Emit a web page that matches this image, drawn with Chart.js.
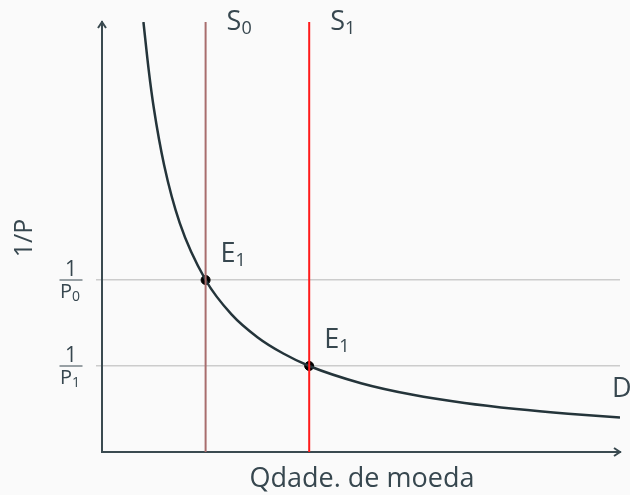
<!DOCTYPE html>
<html>
<head>
<meta charset="utf-8">
<script src="https://cdn.jsdelivr.net/npm/chart.js@4.4.0/dist/chart.umd.min.js"></script>
<style>
  html, body { margin: 0; padding: 0; background: #fafafa; }
  #wrap { width: 630px; height: 495px; }
</style>
</head>
<body>
<div id="wrap"><canvas id="chart" width="630" height="495"></canvas></div>
<script>
// demand curve D (quantity vs 1/P)
const demandX = [0.8, 0.9, 1, 1.2, 1.5, 2, 2.5, 3, 3.5, 4, 5, 6, 7, 8, 9, 10];
const demandY = [10, 8.9, 8, 6.67, 5.33, 4, 3.2, 2.67, 2.29, 2, 1.6, 1.33, 1.14, 1, 0.89, 0.8];

// money supply lines
const supplyX = [2, 4];
const supplyNames = ['S0', 'S1'];
const supplyColors = ['#a86d6d', '#ff1a1a'];

// equilibrium points
const eqX = [2, 4];
const eqY = [4, 2];
const eqLabels = ['E1', 'E1'];

// y ticks (1/P0, 1/P1)
const tickValues = [4, 2];
const tickSubs = ['0', '1'];

const axisColor = '#3a4a50';
const textColor = '#37474f';
const FONT = '"Open Sans", "Noto Sans", sans-serif';

function drawSub(ctx, main, sub, x, y, size) {
    ctx.font = size + 'px ' + FONT;
    ctx.fillText(main, x, y);
    const w = ctx.measureText(main).width;
    ctx.font = Math.round(size * 0.68) + 'px ' + FONT;
    ctx.fillText(sub, x + w, y + size * 0.14);
}

const overlay = {
    id: 'overlay',
    afterDraw(chart) {
        const { ctx, chartArea: a, scales: { x, y } } = chart;
        ctx.save();
        ctx.fillStyle = textColor;
        ctx.textBaseline = 'alphabetic';
        ctx.textAlign = 'left';

        // arrowheads
        ctx.strokeStyle = axisColor;
        ctx.lineWidth = 2;
        ctx.beginPath();
        ctx.moveTo(a.left - 4, a.top + 6);
        ctx.lineTo(a.left, a.top);
        ctx.lineTo(a.left + 4, a.top + 6);
        ctx.moveTo(a.right - 6, a.bottom - 4);
        ctx.lineTo(a.right, a.bottom);
        ctx.lineTo(a.right - 6, a.bottom + 4);
        ctx.stroke();

        // supply labels
        supplyX.forEach((v, i) => {
            drawSub(ctx, 'S', supplyNames[i].slice(1), x.getPixelForValue(v) + 21, 30, 27);
        });

        // equilibrium labels
        eqX.forEach((v, i) => {
            drawSub(ctx, 'E', eqLabels[i].slice(1), x.getPixelForValue(v) + 15, y.getPixelForValue(eqY[i]) - 18, 27);
        });

        // D label
        ctx.font = '27px ' + FONT;
        ctx.fillText('D', a.right - 8, y.getPixelForValue(demandY[demandY.length - 1]) - 21);

        // fraction tick labels
        tickValues.forEach((v, i) => {
            const py = y.getPixelForValue(v);
            const cx = 71;
            ctx.textAlign = 'center';
            ctx.font = '21px ' + FONT;
            ctx.fillText('1', cx, py - 4);
            ctx.strokeStyle = textColor;
            ctx.lineWidth = 1;
            ctx.beginPath();
            ctx.moveTo(cx - 11.5, py);
            ctx.lineTo(cx + 11.5, py);
            ctx.stroke();
            ctx.textAlign = 'left';
            drawSub(ctx, 'P', tickSubs[i], cx - 11, py + 18, 20);
        });

        // axis titles
        ctx.textAlign = 'center';
        ctx.font = '27px ' + FONT;
        ctx.fillText('Qdade. de moeda', 362, 487);
        ctx.save();
        ctx.translate(32, 238);
        ctx.rotate(-Math.PI / 2);
        ctx.font = '25px ' + FONT;
        ctx.fillText('1/P', 0, 0);
        ctx.restore();

        ctx.restore();
    }
};

const datasets = [];
supplyX.forEach((v, i) => {
    datasets.push({
        data: [{ x: v, y: 0 }, { x: v, y: 10 }],
        borderColor: supplyColors[i],
        borderWidth: 2,
        pointRadius: 0
    });
});
datasets.push({
    data: demandX.map((v, i) => ({ x: v, y: demandY[i] })),
    borderColor: '#24343a',
    borderWidth: 2.5,
    pointRadius: 0,
    cubicInterpolationMode: 'monotone'
});
datasets.push({
    data: eqX.map((v, i) => ({ x: v, y: eqY[i] })),
    showLine: false,
    pointRadius: 4.5,
    pointBorderWidth: 1,
    pointBackgroundColor: '#000',
    pointBorderColor: '#000'
});

new Chart(document.getElementById('chart'), {
    type: 'line',
    data: { datasets: datasets },
    options: {
        responsive: false,
        animation: false,
        layout: { padding: { left: 0, top: 22, right: 10, bottom: 0 } },
        plugins: { legend: { display: false }, tooltip: { enabled: false } },
        scales: {
            x: {
                type: 'linear', min: 0, max: 10,
                grid: { display: false },
                ticks: { display: false },
                border: { display: true, color: axisColor, width: 2 },
                afterFit(s) { s.height = 43; }
            },
            y: {
                type: 'linear', min: 0, max: 10,
                afterBuildTicks(s) { s.ticks = tickValues.map(v => ({ value: v })); },
                grid: { color: '#cccccc', lineWidth: 1.5, tickLength: 6 },
                ticks: { display: false },
                border: { display: true, color: axisColor, width: 2 },
                afterFit(s) { s.width = 102; }
            }
        }
    },
    plugins: [overlay]
});
</script>
</body>
</html>
